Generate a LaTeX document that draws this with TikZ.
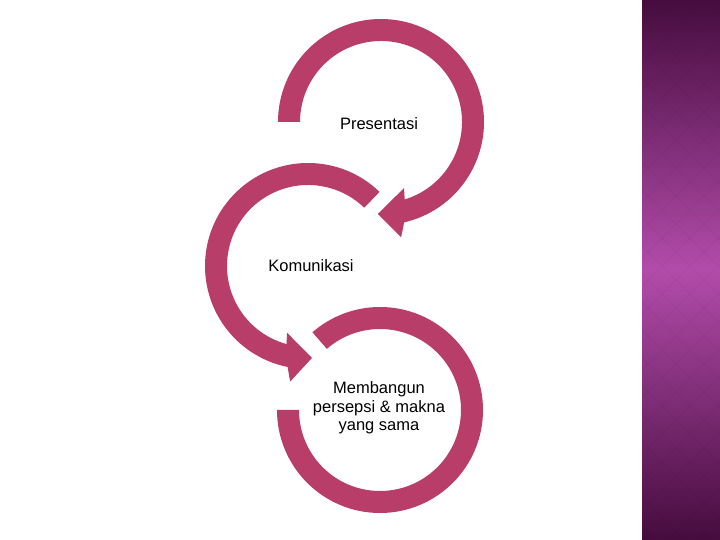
\documentclass[tikz,border=0pt]{standalone}
\usepackage{fontspec}
\setmainfont{Liberation Sans}
\usepackage{xcolor}
\usepackage{tikz}
\usetikzlibrary{positioning,calc}
\definecolor{arcrose}{RGB}{184,61,105}
\definecolor{plumdark}{RGB}{70,12,62}
\definecolor{plumlight}{RGB}{178,76,170}

\begin{document}
\begin{tikzpicture}[x=1pt, y=1pt,
  band/.style={fill=arcrose},
  steptext/.style={font=\fontsize{16.5}{18.5}\selectfont, align=center}]
\useasboundingbox (0,0) rectangle (720,540);
\fill[white] (0,0) rectangle (720,540);

% side panel
\shade[top color=plumdark, bottom color=plumdark, middle color=plumlight] (642,0) rectangle (720,540);
\begin{scope}
\clip (642,0) rectangle (720,540);
\foreach \k in {-160,-132,...,560} {
  \draw[plumdark, opacity=0.07] (620,\k) -- (760,\k+140);
  \draw[plumdark, opacity=0.07] (620,\k) -- (760,\k-140);
}
\end{scope}

\coordinate (c1) at (381,418);
\coordinate (c2) at (308,274);
\coordinate (c3) at (380,130);

% top arrow
\fill[band] ($(c1)+(180:103)$) arc[start angle=180, end angle=-77, radius=103]
  -- ($(c1)+(-80.1:117)$) -- ($(c1)+(-92:92)$) -- ($(c1)+(-70.8:70)$)
  -- ($(c1)+(-73:81)$) arc[start angle=-73, end angle=180, radius=81] -- cycle;

% middle arrow
\fill[band] ($(c2)+(46:103)$) arc[start angle=46, end angle=258.6, radius=103]
  -- ($(c2)+(261.2:117)$) -- ($(c2)+(272.5:92)$) -- ($(c2)+(252.6:70)$)
  -- ($(c2)+(254.6:81)$) arc[start angle=254.6, end angle=46, radius=81] -- cycle;

% bottom ring
\fill[band] ($(c3)+(180:103)$) arc[start angle=180, end angle=491, radius=103]
  -- ($(c3)+(491:81)$) arc[start angle=491, end angle=180, radius=81] -- cycle;

\node[steptext] (pres) at (379,416) {Presentasi};
\node[steptext] (kom) at (311,274) {Komunikasi};
\node[steptext] (memb) at (379,132) {Membangun\\persepsi \& makna\\yang sama};
\end{tikzpicture}
\end{document}
